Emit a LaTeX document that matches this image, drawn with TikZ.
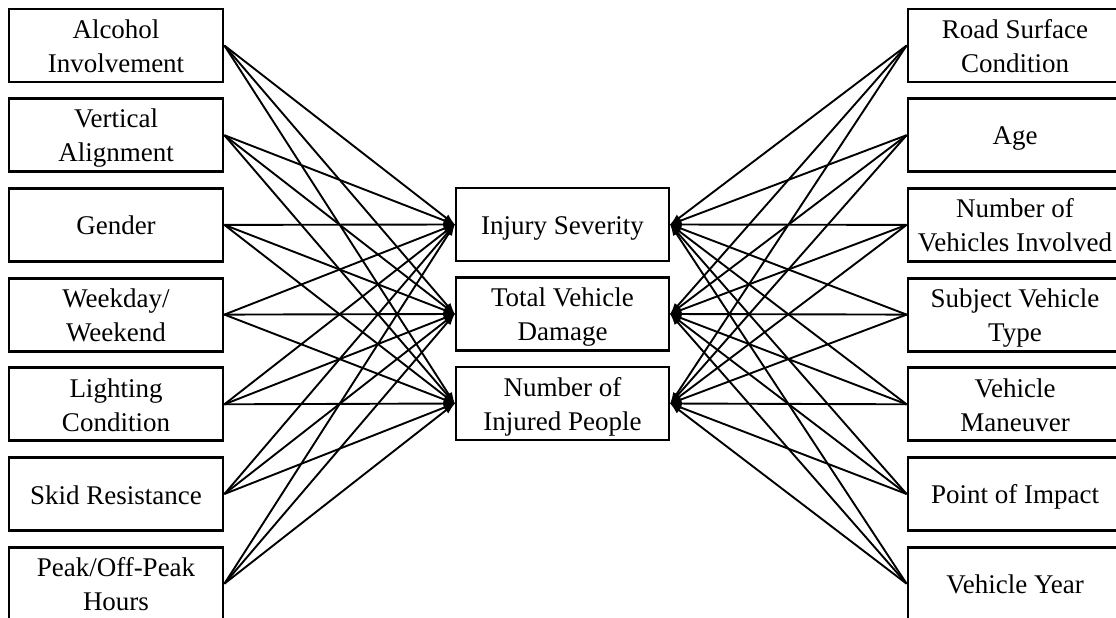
\documentclass[tikz,border=0pt]{standalone}
\usepackage{fontspec}
\setmainfont{Liberation Serif}
\usetikzlibrary{arrows.meta}
% struts that fix the height of the first line and the depth of the last one
\newcommand\firststrut{\rule{0pt}{25pt}}
\newcommand\laststrut{\rule[-5pt]{0pt}{5pt}}
\tikzset{
  factor/.style={draw, line width=2.8pt, minimum width=214pt, minimum height=73pt,
    inner sep=0pt, align=center, font=\fontsize{27}{34}\selectfont,
    execute at end node={\laststrut}},
  outcome/.style={factor, minimum width=213pt},
  link/.style={line width=1.9pt, -{Latex[length=12pt,width=8pt]}, shorten >=-1pt}
}
\begin{document}
\begin{tikzpicture}[x=1pt,y=-1pt]
\useasboundingbox (0,0) rectangle (1116,618);
\clip (0,0) rectangle (1116,618);
% left column of factors
\node[factor] (L1) at (116,45.5)  {\firststrut Alcohol\\Involvement};
\node[factor] (L2) at (116,135.2) {\firststrut Vertical\\Alignment};
\node[factor] (L3) at (116,224.9) {\firststrut Gender};
\node[factor] (L4) at (116,314.6) {\firststrut Weekday/\\Weekend};
\node[factor] (L5) at (116,404.3) {\firststrut Lighting\\Condition};
\node[factor] (L6) at (116,494)   {\firststrut Skid Resistance};
\node[factor] (L7) at (116,583.7) {\firststrut Peak/Off-Peak\\Hours};
% right column of factors
\node[factor] (R1) at (1015,45.5)  {\firststrut Road Surface\\Condition};
\node[factor] (R2) at (1015,135.2) {\firststrut Age};
\node[factor] (R3) at (1015,224.9) {\firststrut Number of\\Vehicles Involved};
\node[factor] (R4) at (1015,314.6) {\firststrut Subject Vehicle\\Type};
\node[factor] (R5) at (1015,404.3) {\firststrut Vehicle\\Maneuver};
\node[factor] (R6) at (1015,494)   {\firststrut Point of Impact};
\node[factor] (R7) at (1015,583.7) {\firststrut Vehicle Year};
% outcomes in the middle
\node[outcome] (C1) at (562.5,224.5) {\firststrut Injury Severity};
\node[outcome] (C2) at (562.5,314)   {\firststrut Total Vehicle\\Damage};
\node[outcome] (C3) at (562.5,403.5) {\firststrut Number of\\Injured People};
% every factor points to every outcome
\foreach \i in {1,...,7}{
  \foreach \j in {1,2,3}{
    \draw[link] (L\i.east) -- (C\j.west);
    \draw[link] (R\i.west) -- (C\j.east);
  }
}
\end{tikzpicture}
\end{document}
